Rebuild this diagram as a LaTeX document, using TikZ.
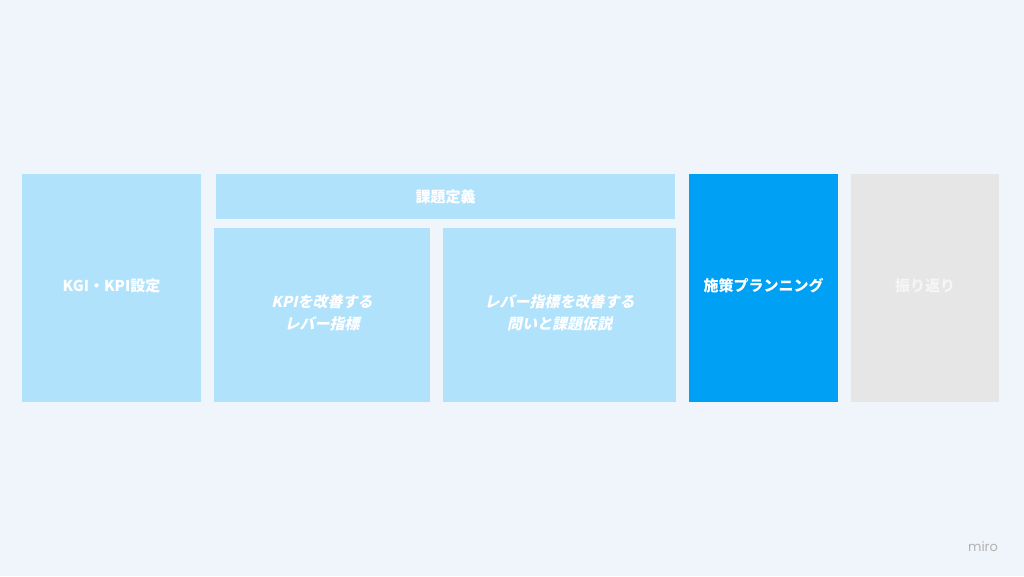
\documentclass[tikz,border=0pt]{standalone}
\usepackage{fontspec}
\setmainfont{Noto Sans CJK JP}
\newfontfamily\slantfont[FakeSlant=0.22]{Noto Sans CJK JP}
\newfontfamily\logofont{Poppins}
\usepackage{xcolor}
\definecolor{bgpale}{HTML}{EFF5FA}
\definecolor{skylight}{HTML}{B0E2FC}
\definecolor{skydeep}{HTML}{00A0F5}
\definecolor{greybox}{HTML}{E6E6E6}
\tikzset{
  phase/.style={rectangle,inner sep=0pt,text=white,align=center,
    font=\fontsize{15}{22}\selectfont\bfseries},
  lightphase/.style={phase,fill=skylight},
  subphase/.style={lightphase,font=\fontsize{15}{22}\selectfont\slantfont\bfseries}
}

\begin{document}
\begin{tikzpicture}[x=1pt,y=-1pt]
    \fill[bgpale] (0,0) rectangle (1024,576);
    \useasboundingbox (0,0) rectangle (1024,576);
    % goal setting
    \node[lightphase,minimum width=179pt,minimum height=228pt] (kgi) at (111.5,288) {};
    \node[phase] (kgitext) at (kgi.center) [yshift=2pt] {KGI・KPI設定};
    % problem definition and its two parts
    \node[lightphase,minimum width=459pt,minimum height=45pt] (kadai) at (445.5,196.5) {課題定義};
    \node[subphase,minimum width=216pt,minimum height=174pt] (lever) at (322,315) {};
    \node[subphase] (levertext) at (lever.center) [yshift=2pt] {KPIを改善する\\レバー指標};
    \node[subphase,minimum width=233pt,minimum height=174pt] (toi) at (559.5,315) {};
    \node[subphase] (toitext) at (toi.center) [yshift=2pt] {レバー指標を改善する\\問いと課題仮説};
    % planning and review
    \node[phase,fill=skydeep,minimum width=149pt,minimum height=228pt] (sesaku) at (763.5,288) {};
    \node[phase] (sesakutext) at (sesaku.center) [yshift=2pt] {施策プランニング};
    \node[phase,fill=greybox,minimum width=148pt,minimum height=228pt] (furi) at (925,288) {};
    \node[phase,text=white!96!black] (furitext) at (furi.center) [yshift=2pt] {振り返り};
    \node[text=black!30,font=\logofont\fontsize{13}{13}\selectfont] (logo) at (983,547) {miro};
\end{tikzpicture}
\end{document}
